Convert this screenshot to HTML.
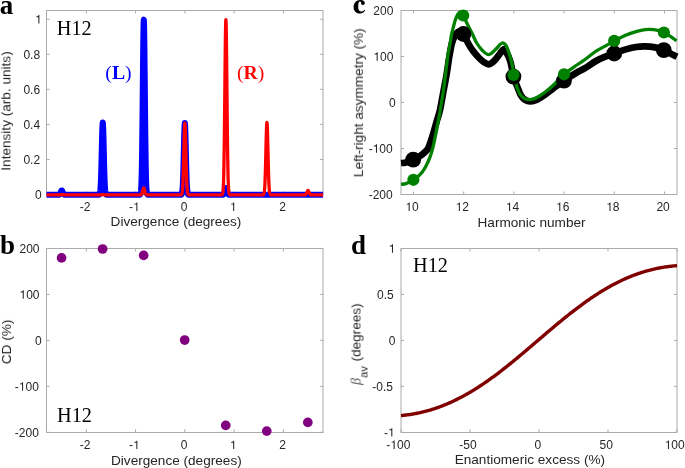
<!DOCTYPE html><html><head><meta charset="utf-8"><style>html,body{margin:0;padding:0;background:#fff;width:685px;height:468px;overflow:hidden}svg{display:block}</style></head><body><svg width="685" height="468" viewBox="0 0 685 468">
<rect width="685" height="468" fill="#fff"/>
<defs><clipPath id="ca"><rect x="46.5" y="0" width="276.6" height="468"/></clipPath><clipPath id="cc"><rect x="400.9" y="0" width="276.30000000000007" height="468"/></clipPath></defs>
<rect x="46.50" y="10.50" width="276.50" height="184.00" fill="none" stroke="#ababab" stroke-width="1"/>
<path d="M86.35 194.50V191.50M86.35 10.50V13.50M135.60 194.50V191.50M135.60 10.50V13.50M184.85 194.50V191.50M184.85 10.50V13.50M234.10 194.50V191.50M234.10 10.50V13.50M283.35 194.50V191.50M283.35 10.50V13.50" stroke="#ababab" stroke-width="1" fill="none"/>
<path d="M46.50 194.50H49.50M323.10 194.50H320.10M46.50 159.45H49.50M323.10 159.45H320.10M46.50 124.40H49.50M323.10 124.40H320.10M46.50 89.36H49.50M323.10 89.36H320.10M46.50 54.31H49.50M323.10 54.31H320.10M46.50 19.26H49.50M323.10 19.26H320.10" stroke="#ababab" stroke-width="1" fill="none"/>
<text style="will-change:transform" x="35.09" y="198.80" font-family='"Liberation Sans", sans-serif' font-size="12" fill="#262626">0</text>
<text style="will-change:transform" x="23.38" y="163.75" font-family='"Liberation Sans", sans-serif' font-size="12" fill="#262626">0</text>
<text style="will-change:transform" x="30.06" y="163.75" font-family='"Liberation Sans", sans-serif' font-size="12" fill="#262626">.</text>
<text style="will-change:transform" x="33.39" y="163.75" font-family='"Liberation Sans", sans-serif' font-size="12" fill="#262626">2</text>
<text style="will-change:transform" x="23.38" y="128.70" font-family='"Liberation Sans", sans-serif' font-size="12" fill="#262626">0</text>
<text style="will-change:transform" x="30.06" y="128.70" font-family='"Liberation Sans", sans-serif' font-size="12" fill="#262626">.</text>
<text style="will-change:transform" x="33.39" y="128.70" font-family='"Liberation Sans", sans-serif' font-size="12" fill="#262626">4</text>
<text style="will-change:transform" x="23.38" y="93.66" font-family='"Liberation Sans", sans-serif' font-size="12" fill="#262626">0</text>
<text style="will-change:transform" x="30.06" y="93.66" font-family='"Liberation Sans", sans-serif' font-size="12" fill="#262626">.</text>
<text style="will-change:transform" x="33.39" y="93.66" font-family='"Liberation Sans", sans-serif' font-size="12" fill="#262626">6</text>
<text style="will-change:transform" x="23.38" y="58.61" font-family='"Liberation Sans", sans-serif' font-size="12" fill="#262626">0</text>
<text style="will-change:transform" x="30.06" y="58.61" font-family='"Liberation Sans", sans-serif' font-size="12" fill="#262626">.</text>
<text style="will-change:transform" x="33.39" y="58.61" font-family='"Liberation Sans", sans-serif' font-size="12" fill="#262626">8</text>
<path d="M39.40 23.56L39.40 15.12L38.60 15.12C38.48 15.70 38.09 16.12 37.43 16.29L36.30 16.38L36.30 17.20L38.36 17.20L38.36 23.56Z" fill="#262626"/>
<text style="will-change:transform" x="79.81" y="210.90" font-family='"Liberation Sans", sans-serif' font-size="12" fill="#262626">-</text>
<text style="will-change:transform" x="83.80" y="210.90" font-family='"Liberation Sans", sans-serif' font-size="12" fill="#262626">2</text>
<text style="will-change:transform" x="129.06" y="210.90" font-family='"Liberation Sans", sans-serif' font-size="12" fill="#262626">-</text>
<path d="M137.36 210.90L137.36 202.46L136.56 202.46C136.44 203.04 136.05 203.46 135.39 203.63L134.27 203.72L134.27 204.54L136.32 204.54L136.32 210.90Z" fill="#262626"/>
<text style="will-change:transform" x="180.65" y="210.90" font-family='"Liberation Sans", sans-serif' font-size="12" fill="#262626">0</text>
<path d="M234.20 210.90L234.20 202.46L233.40 202.46C233.28 203.04 232.90 203.46 232.24 203.63L231.11 203.72L231.11 204.54L233.16 204.54L233.16 210.90Z" fill="#262626"/>
<text style="will-change:transform" x="279.15" y="210.90" font-family='"Liberation Sans", sans-serif' font-size="12" fill="#262626">2</text>
<text style="will-change:transform" x="110.60" y="226.40" font-family='"Liberation Sans", sans-serif' font-size="13.6" text-anchor="start" fill="#262626" font-weight="normal" >Divergence (degrees)</text>
<text style="will-change:transform" transform="translate(10.40,111.00) rotate(-90)" x="0" y="0" font-family='"Liberation Sans", sans-serif' font-size="13.6" text-anchor="middle" fill="#262626">Intensity (arb. units)</text>
<path d="M42.03 194.85 L58.10 194.84 L58.22 194.84 L58.34 194.83 L58.46 194.82 L58.58 194.81 L58.69 194.79 L58.81 194.77 L58.93 194.74 L59.05 194.69 L59.17 194.64 L59.29 194.58 L59.41 194.49 L59.53 194.39 L59.65 194.27 L59.77 194.12 L59.89 193.95 L60.00 193.75 L60.12 193.53 L60.24 193.28 L60.36 193.01 L60.48 192.72 L60.60 192.43 L60.72 192.12 L60.84 191.82 L60.96 191.52 L61.08 191.25 L61.20 191.01 L61.31 190.80 L61.43 190.64 L61.55 190.53 L61.67 190.47 L61.79 190.48 L61.91 190.54 L62.03 190.65 L62.15 190.82 L62.27 191.03 L62.39 191.28 L62.51 191.55 L62.62 191.85 L62.74 192.15 L62.86 192.46 L62.98 192.76 L63.10 193.04 L63.22 193.31 L63.34 193.55 L63.46 193.77 L63.58 193.97 L63.70 194.14 L63.81 194.28 L63.93 194.40 L64.05 194.50 L64.17 194.58 L64.29 194.65 L64.41 194.70 L64.53 194.74 L64.65 194.77 L64.77 194.79 L64.89 194.81 L65.01 194.82 L65.12 194.83 L65.24 194.84 L65.36 194.84 L98.35 194.84 L98.46 194.84 L98.58 194.83 L98.70 194.82 L98.82 194.80 L98.94 194.77 L99.06 194.73 L99.18 194.67 L99.30 194.59 L99.42 194.47 L99.54 194.30 L99.66 194.07 L99.77 193.75 L99.89 193.32 L100.01 192.76 L100.13 192.03 L100.25 191.10 L100.37 189.92 L100.49 188.45 L100.61 186.66 L100.73 184.50 L100.85 181.95 L100.96 178.98 L101.08 175.59 L101.20 171.77 L101.32 167.56 L101.44 163.01 L101.56 158.20 L101.68 153.21 L101.80 148.16 L101.92 143.19 L102.04 138.44 L102.16 134.07 L102.27 130.22 L102.39 127.03 L102.51 124.62 L102.63 123.09 L102.75 122.48 L102.87 122.84 L102.99 124.13 L103.11 126.31 L103.23 129.31 L103.35 132.99 L103.47 137.24 L103.58 141.90 L103.70 146.83 L103.82 151.87 L103.94 156.89 L104.06 161.76 L104.18 166.39 L104.30 170.69 L104.42 174.62 L104.54 178.13 L104.66 181.21 L104.78 183.87 L104.89 186.13 L105.01 188.01 L105.13 189.56 L105.25 190.81 L105.37 191.81 L105.49 192.59 L105.61 193.19 L105.73 193.65 L105.85 193.99 L105.97 194.24 L106.08 194.43 L106.20 194.56 L106.32 194.65 L106.44 194.72 L106.56 194.76 L106.68 194.79 L106.80 194.81 L106.92 194.83 L107.04 194.84 L107.16 194.84 L139.19 194.84 L139.31 194.84 L139.42 194.83 L139.54 194.81 L139.66 194.79 L139.78 194.76 L139.90 194.71 L140.02 194.64 L140.14 194.53 L140.26 194.37 L140.38 194.14 L140.50 193.81 L140.62 193.36 L140.73 192.73 L140.85 191.89 L140.97 190.77 L141.09 189.29 L141.21 187.37 L141.33 184.93 L141.45 181.86 L141.57 178.08 L141.69 173.47 L141.81 167.95 L141.93 161.46 L142.04 153.94 L142.16 145.39 L142.28 135.84 L142.40 125.38 L142.52 114.14 L142.64 102.31 L142.76 90.15 L142.88 77.95 L143.00 66.05 L143.12 54.80 L143.23 44.58 L143.35 35.73 L143.47 28.58 L143.59 23.40 L143.71 20.38 L143.83 19.65 L143.95 21.23 L144.07 25.06 L144.19 31.00 L144.31 38.80 L144.43 48.20 L144.54 58.84 L144.66 70.37 L144.78 82.42 L144.90 94.65 L145.02 106.72 L145.14 118.35 L145.26 129.33 L145.38 139.47 L145.50 148.65 L145.62 156.82 L145.74 163.96 L145.85 170.09 L145.97 175.26 L146.09 179.56 L146.21 183.07 L146.33 185.90 L146.45 188.13 L146.57 189.88 L146.69 191.22 L146.81 192.23 L146.93 192.99 L147.05 193.54 L147.16 193.94 L147.28 194.23 L147.40 194.43 L147.52 194.57 L147.64 194.67 L147.76 194.73 L147.88 194.77 L148.00 194.80 L148.12 194.82 L148.24 194.83 L148.35 194.84 L148.47 194.84 L180.38 194.84 L180.50 194.84 L180.62 194.83 L180.74 194.82 L180.86 194.81 L180.98 194.78 L181.10 194.75 L181.22 194.70 L181.34 194.63 L181.46 194.52 L181.58 194.37 L181.69 194.17 L181.81 193.88 L181.93 193.50 L182.05 193.00 L182.17 192.34 L182.29 191.49 L182.41 190.42 L182.53 189.07 L182.65 187.41 L182.77 185.41 L182.89 183.02 L183.00 180.23 L183.12 177.01 L183.24 173.38 L183.36 169.34 L183.48 164.94 L183.60 160.25 L183.72 155.34 L183.84 150.34 L183.96 145.36 L184.08 140.55 L184.20 136.05 L184.31 132.02 L184.43 128.60 L184.55 125.92 L184.67 124.06 L184.79 123.12 L184.91 123.12 L185.03 124.06 L185.15 125.92 L185.27 128.60 L185.39 132.02 L185.50 136.05 L185.62 140.55 L185.74 145.36 L185.86 150.34 L185.98 155.34 L186.10 160.25 L186.22 164.94 L186.34 169.34 L186.46 173.38 L186.58 177.01 L186.70 180.23 L186.81 183.02 L186.93 185.41 L187.05 187.41 L187.17 189.07 L187.29 190.42 L187.41 191.49 L187.53 192.34 L187.65 193.00 L187.77 193.50 L187.89 193.88 L188.01 194.17 L188.12 194.37 L188.24 194.52 L188.36 194.63 L188.48 194.70 L188.60 194.75 L188.72 194.78 L188.84 194.81 L188.96 194.82 L189.08 194.83 L189.20 194.84 L189.32 194.84 L222.06 194.84 L222.18 194.84 L222.30 194.83 L222.42 194.83 L222.54 194.81 L222.65 194.80 L222.77 194.78 L222.89 194.75 L223.01 194.71 L223.13 194.66 L223.25 194.59 L223.37 194.50 L223.49 194.39 L223.61 194.25 L223.73 194.09 L223.85 193.88 L223.96 193.65 L224.08 193.37 L224.20 193.05 L224.32 192.69 L224.44 192.29 L224.56 191.87 L224.68 191.41 L224.80 190.94 L224.92 190.47 L225.04 190.00 L225.16 189.55 L225.27 189.13 L225.39 188.76 L225.51 188.46 L225.63 188.23 L225.75 188.08 L225.87 188.02 L225.99 188.05 L226.11 188.16 L226.23 188.37 L226.35 188.64 L226.47 188.99 L226.58 189.39 L226.70 189.83 L226.82 190.29 L226.94 190.77 L227.06 191.24 L227.18 191.70 L227.30 192.14 L227.42 192.55 L227.54 192.92 L227.66 193.25 L227.77 193.55 L227.89 193.80 L228.01 194.02 L228.13 194.20 L228.25 194.34 L228.37 194.46 L228.49 194.56 L228.61 194.63 L228.73 194.69 L228.85 194.73 L228.97 194.77 L229.08 194.79 L229.20 194.81 L229.32 194.82 L229.44 194.83 L229.56 194.84 L229.68 194.84 L264.33 194.84 L264.45 194.84 L264.57 194.83 L264.69 194.83 L264.81 194.82 L264.92 194.82 L265.04 194.81 L265.16 194.80 L265.28 194.79 L265.40 194.78 L265.52 194.77 L265.64 194.75 L265.76 194.74 L265.88 194.73 L266.00 194.71 L266.12 194.70 L266.23 194.68 L266.35 194.67 L266.47 194.66 L266.59 194.65 L266.71 194.64 L266.83 194.64 L266.95 194.64 L267.07 194.64 L267.19 194.65 L267.31 194.65 L267.43 194.66 L267.54 194.67 L267.66 194.69 L267.78 194.70 L267.90 194.71 L268.02 194.73 L268.14 194.74 L268.26 194.76 L268.38 194.77 L268.50 194.78 L268.62 194.79 L268.74 194.80 L268.85 194.81 L268.97 194.82 L269.09 194.83 L269.21 194.83 L269.33 194.84 L269.45 194.84 L269.57 194.84 L305.29 194.84 L305.41 194.84 L305.53 194.84 L305.65 194.83 L305.77 194.83 L305.89 194.82 L306.00 194.81 L306.12 194.80 L306.24 194.79 L306.36 194.78 L306.48 194.77 L306.60 194.76 L306.72 194.74 L306.84 194.73 L306.96 194.71 L307.08 194.69 L307.19 194.68 L307.31 194.66 L307.43 194.65 L307.55 194.64 L307.67 194.63 L307.79 194.63 L307.91 194.62 L308.03 194.62 L308.15 194.63 L308.27 194.63 L308.39 194.64 L308.50 194.65 L308.62 194.66 L308.74 194.68 L308.86 194.69 L308.98 194.71 L309.10 194.72 L309.22 194.74 L309.34 194.75 L309.46 194.77 L309.58 194.78 L309.70 194.79 L309.81 194.80 L309.93 194.81 L310.05 194.82 L310.17 194.83 L310.29 194.83 L310.41 194.84 L310.53 194.84 L310.65 194.84 L327.67 194.85" fill="none" stroke="#0000ff" stroke-width="6.0" stroke-linejoin="round" stroke-linecap="butt" clip-path="url(#ca)"/>
<path d="M42.03 194.85 L59.05 194.84 L59.17 194.84 L59.29 194.84 L59.41 194.83 L59.53 194.83 L59.65 194.82 L59.77 194.81 L59.89 194.80 L60.00 194.79 L60.12 194.78 L60.24 194.77 L60.36 194.75 L60.48 194.74 L60.60 194.72 L60.72 194.71 L60.84 194.69 L60.96 194.68 L61.08 194.66 L61.20 194.65 L61.31 194.64 L61.43 194.63 L61.55 194.63 L61.67 194.62 L61.79 194.62 L61.91 194.63 L62.03 194.63 L62.15 194.64 L62.27 194.65 L62.39 194.66 L62.51 194.68 L62.62 194.69 L62.74 194.71 L62.86 194.73 L62.98 194.74 L63.10 194.76 L63.22 194.77 L63.34 194.78 L63.46 194.79 L63.58 194.80 L63.70 194.81 L63.81 194.82 L63.93 194.83 L64.05 194.83 L64.17 194.84 L64.29 194.84 L64.41 194.84 L100.13 194.84 L100.25 194.84 L100.37 194.84 L100.49 194.83 L100.61 194.83 L100.73 194.82 L100.85 194.81 L100.96 194.80 L101.08 194.79 L101.20 194.78 L101.32 194.77 L101.44 194.76 L101.56 194.74 L101.68 194.73 L101.80 194.71 L101.92 194.70 L102.04 194.69 L102.16 194.67 L102.27 194.66 L102.39 194.65 L102.51 194.65 L102.63 194.64 L102.75 194.64 L102.87 194.64 L102.99 194.64 L103.11 194.65 L103.23 194.66 L103.35 194.67 L103.47 194.68 L103.58 194.70 L103.70 194.71 L103.82 194.73 L103.94 194.74 L104.06 194.75 L104.18 194.77 L104.30 194.78 L104.42 194.79 L104.54 194.80 L104.66 194.81 L104.78 194.82 L104.89 194.82 L105.01 194.83 L105.13 194.83 L105.25 194.84 L105.37 194.84 L140.02 194.84 L140.14 194.84 L140.26 194.83 L140.38 194.82 L140.50 194.81 L140.62 194.79 L140.73 194.77 L140.85 194.73 L140.97 194.69 L141.09 194.63 L141.21 194.56 L141.33 194.46 L141.45 194.34 L141.57 194.20 L141.69 194.02 L141.81 193.80 L141.93 193.55 L142.04 193.25 L142.16 192.92 L142.28 192.55 L142.40 192.14 L142.52 191.70 L142.64 191.24 L142.76 190.77 L142.88 190.29 L143.00 189.83 L143.12 189.39 L143.23 188.99 L143.35 188.64 L143.47 188.37 L143.59 188.16 L143.71 188.05 L143.83 188.02 L143.95 188.08 L144.07 188.23 L144.19 188.46 L144.31 188.76 L144.43 189.13 L144.54 189.55 L144.66 190.00 L144.78 190.47 L144.90 190.94 L145.02 191.41 L145.14 191.87 L145.26 192.29 L145.38 192.69 L145.50 193.05 L145.62 193.37 L145.74 193.65 L145.85 193.88 L145.97 194.09 L146.09 194.25 L146.21 194.39 L146.33 194.50 L146.45 194.59 L146.57 194.66 L146.69 194.71 L146.81 194.75 L146.93 194.78 L147.05 194.80 L147.16 194.81 L147.28 194.83 L147.40 194.83 L147.52 194.84 L147.64 194.84 L180.38 194.84 L180.50 194.84 L180.62 194.83 L180.74 194.82 L180.86 194.81 L180.98 194.78 L181.10 194.75 L181.22 194.70 L181.34 194.63 L181.46 194.52 L181.58 194.37 L181.69 194.17 L181.81 193.88 L181.93 193.50 L182.05 193.00 L182.17 192.34 L182.29 191.49 L182.41 190.42 L182.53 189.07 L182.65 187.41 L182.77 185.41 L182.89 183.02 L183.00 180.23 L183.12 177.01 L183.24 173.38 L183.36 169.34 L183.48 164.94 L183.60 160.25 L183.72 155.34 L183.84 150.34 L183.96 145.36 L184.08 140.55 L184.20 136.05 L184.31 132.02 L184.43 128.60 L184.55 125.92 L184.67 124.06 L184.79 123.12 L184.91 123.12 L185.03 124.06 L185.15 125.92 L185.27 128.60 L185.39 132.02 L185.50 136.05 L185.62 140.55 L185.74 145.36 L185.86 150.34 L185.98 155.34 L186.10 160.25 L186.22 164.94 L186.34 169.34 L186.46 173.38 L186.58 177.01 L186.70 180.23 L186.81 183.02 L186.93 185.41 L187.05 187.41 L187.17 189.07 L187.29 190.42 L187.41 191.49 L187.53 192.34 L187.65 193.00 L187.77 193.50 L187.89 193.88 L188.01 194.17 L188.12 194.37 L188.24 194.52 L188.36 194.63 L188.48 194.70 L188.60 194.75 L188.72 194.78 L188.84 194.81 L188.96 194.82 L189.08 194.83 L189.20 194.84 L189.32 194.84 L221.23 194.84 L221.35 194.84 L221.46 194.83 L221.58 194.82 L221.70 194.80 L221.82 194.77 L221.94 194.73 L222.06 194.67 L222.18 194.57 L222.30 194.43 L222.42 194.23 L222.54 193.94 L222.65 193.54 L222.77 192.99 L222.89 192.23 L223.01 191.22 L223.13 189.88 L223.25 188.13 L223.37 185.90 L223.49 183.07 L223.61 179.56 L223.73 175.26 L223.85 170.09 L223.96 163.96 L224.08 156.82 L224.20 148.65 L224.32 139.47 L224.44 129.33 L224.56 118.35 L224.68 106.72 L224.80 94.65 L224.92 82.42 L225.04 70.37 L225.16 58.84 L225.27 48.20 L225.39 38.80 L225.51 31.00 L225.63 25.06 L225.75 21.23 L225.87 19.65 L225.99 20.38 L226.11 23.40 L226.23 28.58 L226.35 35.73 L226.47 44.58 L226.58 54.80 L226.70 66.05 L226.82 77.95 L226.94 90.15 L227.06 102.31 L227.18 114.14 L227.30 125.38 L227.42 135.84 L227.54 145.39 L227.66 153.94 L227.77 161.46 L227.89 167.95 L228.01 173.47 L228.13 178.08 L228.25 181.86 L228.37 184.93 L228.49 187.37 L228.61 189.29 L228.73 190.77 L228.85 191.89 L228.97 192.73 L229.08 193.36 L229.20 193.81 L229.32 194.14 L229.44 194.37 L229.56 194.53 L229.68 194.64 L229.80 194.71 L229.92 194.76 L230.04 194.79 L230.16 194.81 L230.28 194.83 L230.39 194.84 L230.51 194.84 L262.54 194.84 L262.66 194.84 L262.78 194.83 L262.90 194.81 L263.02 194.79 L263.14 194.76 L263.26 194.72 L263.38 194.65 L263.50 194.56 L263.62 194.43 L263.73 194.24 L263.85 193.99 L263.97 193.65 L264.09 193.19 L264.21 192.59 L264.33 191.81 L264.45 190.81 L264.57 189.56 L264.69 188.01 L264.81 186.13 L264.92 183.87 L265.04 181.21 L265.16 178.13 L265.28 174.62 L265.40 170.69 L265.52 166.39 L265.64 161.76 L265.76 156.89 L265.88 151.87 L266.00 146.83 L266.12 141.90 L266.23 137.24 L266.35 132.99 L266.47 129.31 L266.59 126.31 L266.71 124.13 L266.83 122.84 L266.95 122.48 L267.07 123.09 L267.19 124.62 L267.31 127.03 L267.43 130.22 L267.54 134.07 L267.66 138.44 L267.78 143.19 L267.90 148.16 L268.02 153.21 L268.14 158.20 L268.26 163.01 L268.38 167.56 L268.50 171.77 L268.62 175.59 L268.74 178.98 L268.85 181.95 L268.97 184.50 L269.09 186.66 L269.21 188.45 L269.33 189.92 L269.45 191.10 L269.57 192.03 L269.69 192.76 L269.81 193.32 L269.93 193.75 L270.04 194.07 L270.16 194.30 L270.28 194.47 L270.40 194.59 L270.52 194.67 L270.64 194.73 L270.76 194.77 L270.88 194.80 L271.00 194.82 L271.12 194.83 L271.24 194.84 L271.35 194.84 L304.34 194.84 L304.46 194.84 L304.58 194.83 L304.69 194.82 L304.81 194.81 L304.93 194.79 L305.05 194.77 L305.17 194.74 L305.29 194.70 L305.41 194.65 L305.53 194.58 L305.65 194.50 L305.77 194.40 L305.89 194.28 L306.00 194.14 L306.12 193.97 L306.24 193.77 L306.36 193.55 L306.48 193.31 L306.60 193.04 L306.72 192.76 L306.84 192.46 L306.96 192.15 L307.08 191.85 L307.19 191.55 L307.31 191.28 L307.43 191.03 L307.55 190.82 L307.67 190.65 L307.79 190.54 L307.91 190.48 L308.03 190.47 L308.15 190.53 L308.27 190.64 L308.39 190.80 L308.50 191.01 L308.62 191.25 L308.74 191.52 L308.86 191.82 L308.98 192.12 L309.10 192.43 L309.22 192.72 L309.34 193.01 L309.46 193.28 L309.58 193.53 L309.70 193.75 L309.81 193.95 L309.93 194.12 L310.05 194.27 L310.17 194.39 L310.29 194.49 L310.41 194.58 L310.53 194.64 L310.65 194.69 L310.77 194.74 L310.89 194.77 L311.01 194.79 L311.12 194.81 L311.24 194.82 L311.36 194.83 L311.48 194.84 L311.60 194.84 L327.67 194.85" fill="none" stroke="#ff0000" stroke-width="3.3" stroke-linejoin="round" stroke-linecap="butt" clip-path="url(#ca)"/>
<text style="will-change:transform" x="56.80" y="34.80" font-family='"Liberation Serif", serif' font-size="20.3" text-anchor="start" fill="#000" font-weight="normal" >H12</text>
<text style="will-change:transform" transform="translate(105.3,79.3) scale(1,0.93)" font-family='"Liberation Serif", serif' font-size="19.8" fill="#0000ff" font-weight="bold"><tspan font-weight="normal">(</tspan>L<tspan font-weight="normal">)</tspan></text>
<text style="will-change:transform" transform="translate(236.9,79.3) scale(1,0.93)" font-family='"Liberation Serif", serif' font-size="19.8" fill="#ff0000" font-weight="bold"><tspan font-weight="normal">(</tspan>R<tspan font-weight="normal">)</tspan></text>
<text style="will-change:transform" x="-0.30" y="13.80" font-family='"Liberation Serif", serif' font-size="27" text-anchor="start" fill="#000" font-weight="bold" >a</text>
<rect x="46.50" y="248.50" width="276.50" height="184.00" fill="none" stroke="#ababab" stroke-width="1"/>
<path d="M86.35 432.30V429.30M86.35 248.50V251.50M135.60 432.30V429.30M135.60 248.50V251.50M184.85 432.30V429.30M184.85 248.50V251.50M234.10 432.30V429.30M234.10 248.50V251.50M283.35 432.30V429.30M283.35 248.50V251.50" stroke="#ababab" stroke-width="1" fill="none"/>
<path d="M46.50 432.30H49.50M323.20 432.30H320.20M46.50 386.35H49.50M323.20 386.35H320.20M46.50 340.40H49.50M323.20 340.40H320.20M46.50 294.45H49.50M323.20 294.45H320.20M46.50 248.50H49.50M323.20 248.50H320.20" stroke="#ababab" stroke-width="1" fill="none"/>
<text style="will-change:transform" x="14.80" y="436.60" font-family='"Liberation Sans", sans-serif' font-size="12" fill="#262626">-</text>
<text style="will-change:transform" x="18.80" y="436.60" font-family='"Liberation Sans", sans-serif' font-size="12" fill="#262626">2</text>
<text style="will-change:transform" x="25.47" y="436.60" font-family='"Liberation Sans", sans-serif' font-size="12" fill="#262626">0</text>
<text style="will-change:transform" x="32.14" y="436.60" font-family='"Liberation Sans", sans-serif' font-size="12" fill="#262626">0</text>
<text style="will-change:transform" x="14.80" y="390.65" font-family='"Liberation Sans", sans-serif' font-size="12" fill="#262626">-</text>
<text style="will-change:transform" x="25.47" y="390.65" font-family='"Liberation Sans", sans-serif' font-size="12" fill="#262626">0</text>
<text style="will-change:transform" x="32.14" y="390.65" font-family='"Liberation Sans", sans-serif' font-size="12" fill="#262626">0</text>
<path d="M23.10 390.65L23.10 382.21L22.30 382.21C22.18 382.79 21.80 383.21 21.14 383.38L20.01 383.47L20.01 384.29L22.06 384.29L22.06 390.65Z" fill="#262626"/>
<text style="will-change:transform" x="35.09" y="344.70" font-family='"Liberation Sans", sans-serif' font-size="12" fill="#262626">0</text>
<text style="will-change:transform" x="26.15" y="298.75" font-family='"Liberation Sans", sans-serif' font-size="12" fill="#262626">0</text>
<text style="will-change:transform" x="32.82" y="298.75" font-family='"Liberation Sans", sans-serif' font-size="12" fill="#262626">0</text>
<path d="M23.78 298.75L23.78 290.31L22.98 290.31C22.86 290.89 22.47 291.31 21.81 291.48L20.69 291.57L20.69 292.39L22.74 292.39L22.74 298.75Z" fill="#262626"/>
<text style="will-change:transform" x="19.47" y="252.80" font-family='"Liberation Sans", sans-serif' font-size="12" fill="#262626">2</text>
<text style="will-change:transform" x="26.15" y="252.80" font-family='"Liberation Sans", sans-serif' font-size="12" fill="#262626">0</text>
<text style="will-change:transform" x="32.82" y="252.80" font-family='"Liberation Sans", sans-serif' font-size="12" fill="#262626">0</text>
<text style="will-change:transform" x="79.81" y="449.10" font-family='"Liberation Sans", sans-serif' font-size="12" fill="#262626">-</text>
<text style="will-change:transform" x="83.80" y="449.10" font-family='"Liberation Sans", sans-serif' font-size="12" fill="#262626">2</text>
<text style="will-change:transform" x="129.06" y="449.10" font-family='"Liberation Sans", sans-serif' font-size="12" fill="#262626">-</text>
<path d="M137.36 449.10L137.36 440.66L136.56 440.66C136.44 441.24 136.05 441.66 135.39 441.83L134.27 441.92L134.27 442.74L136.32 442.74L136.32 449.10Z" fill="#262626"/>
<text style="will-change:transform" x="180.65" y="449.10" font-family='"Liberation Sans", sans-serif' font-size="12" fill="#262626">0</text>
<path d="M234.20 449.10L234.20 440.66L233.40 440.66C233.28 441.24 232.90 441.66 232.24 441.83L231.11 441.92L231.11 442.74L233.16 442.74L233.16 449.10Z" fill="#262626"/>
<text style="will-change:transform" x="279.15" y="449.10" font-family='"Liberation Sans", sans-serif' font-size="12" fill="#262626">2</text>
<text style="will-change:transform" x="111.00" y="464.50" font-family='"Liberation Sans", sans-serif' font-size="13.6" text-anchor="start" fill="#262626" font-weight="normal" >Divergence (degrees)</text>
<text style="will-change:transform" transform="translate(11.00,341.90) rotate(-90)" x="0" y="0" font-family='"Liberation Sans", sans-serif' font-size="13.6" text-anchor="middle" fill="#262626">CD (%)</text>
<circle cx="61.57" cy="257.92" r="4.85" fill="#800080"/>
<circle cx="102.62" cy="249.01" r="4.85" fill="#800080"/>
<circle cx="143.66" cy="255.39" r="4.85" fill="#800080"/>
<circle cx="184.70" cy="340.03" r="4.85" fill="#800080"/>
<circle cx="225.74" cy="425.41" r="4.85" fill="#800080"/>
<circle cx="266.78" cy="431.11" r="4.85" fill="#800080"/>
<circle cx="307.83" cy="422.42" r="4.85" fill="#800080"/>
<text style="will-change:transform" x="57.00" y="421.90" font-family='"Liberation Serif", serif' font-size="20.3" text-anchor="start" fill="#000" font-weight="normal" >H12</text>
<text style="will-change:transform" x="0.00" y="253.50" font-family='"Liberation Serif", serif' font-size="27" text-anchor="start" fill="#000" font-weight="bold" >b</text>
<rect x="401.00" y="10.50" width="276.00" height="184.00" fill="none" stroke="#ababab" stroke-width="1"/>
<path d="M413.50 194.50V191.50M413.50 10.50V13.50M463.70 194.50V191.50M463.70 10.50V13.50M513.90 194.50V191.50M513.90 10.50V13.50M564.10 194.50V191.50M564.10 10.50V13.50M614.30 194.50V191.50M614.30 10.50V13.50M664.50 194.50V191.50M664.50 10.50V13.50" stroke="#ababab" stroke-width="1" fill="none"/>
<path d="M401.00 194.50H404.00M677.00 194.50H674.00M401.00 148.50H404.00M677.00 148.50H674.00M401.00 102.50H404.00M677.00 102.50H674.00M401.00 56.50H404.00M677.00 56.50H674.00M401.00 10.50H404.00M677.00 10.50H674.00" stroke="#ababab" stroke-width="1" fill="none"/>
<text style="will-change:transform" x="368.70" y="198.80" font-family='"Liberation Sans", sans-serif' font-size="12" fill="#262626">-</text>
<text style="will-change:transform" x="372.70" y="198.80" font-family='"Liberation Sans", sans-serif' font-size="12" fill="#262626">2</text>
<text style="will-change:transform" x="379.37" y="198.80" font-family='"Liberation Sans", sans-serif' font-size="12" fill="#262626">0</text>
<text style="will-change:transform" x="386.04" y="198.80" font-family='"Liberation Sans", sans-serif' font-size="12" fill="#262626">0</text>
<text style="will-change:transform" x="368.70" y="152.80" font-family='"Liberation Sans", sans-serif' font-size="12" fill="#262626">-</text>
<text style="will-change:transform" x="379.37" y="152.80" font-family='"Liberation Sans", sans-serif' font-size="12" fill="#262626">0</text>
<text style="will-change:transform" x="386.04" y="152.80" font-family='"Liberation Sans", sans-serif' font-size="12" fill="#262626">0</text>
<path d="M377.00 152.80L377.00 144.36L376.20 144.36C376.08 144.94 375.70 145.36 375.04 145.53L373.91 145.62L373.91 146.44L375.96 146.44L375.96 152.80Z" fill="#262626"/>
<text style="will-change:transform" x="388.99" y="106.80" font-family='"Liberation Sans", sans-serif' font-size="12" fill="#262626">0</text>
<text style="will-change:transform" x="380.05" y="60.80" font-family='"Liberation Sans", sans-serif' font-size="12" fill="#262626">0</text>
<text style="will-change:transform" x="386.72" y="60.80" font-family='"Liberation Sans", sans-serif' font-size="12" fill="#262626">0</text>
<path d="M377.68 60.80L377.68 52.36L376.88 52.36C376.76 52.94 376.37 53.36 375.71 53.53L374.59 53.62L374.59 54.44L376.64 54.44L376.64 60.80Z" fill="#262626"/>
<text style="will-change:transform" x="373.37" y="14.80" font-family='"Liberation Sans", sans-serif' font-size="12" fill="#262626">2</text>
<text style="will-change:transform" x="380.05" y="14.80" font-family='"Liberation Sans", sans-serif' font-size="12" fill="#262626">0</text>
<text style="will-change:transform" x="386.72" y="14.80" font-family='"Liberation Sans", sans-serif' font-size="12" fill="#262626">0</text>
<text style="will-change:transform" x="412.07" y="210.90" font-family='"Liberation Sans", sans-serif' font-size="12" fill="#262626">0</text>
<path d="M409.70 210.90L409.70 202.46L408.90 202.46C408.78 203.04 408.39 203.46 407.73 203.63L406.60 203.72L406.60 204.54L408.66 204.54L408.66 210.90Z" fill="#262626"/>
<text style="will-change:transform" x="462.27" y="210.90" font-family='"Liberation Sans", sans-serif' font-size="12" fill="#262626">2</text>
<path d="M459.90 210.90L459.90 202.46L459.10 202.46C458.98 203.04 458.59 203.46 457.93 203.63L456.80 203.72L456.80 204.54L458.86 204.54L458.86 210.90Z" fill="#262626"/>
<text style="will-change:transform" x="512.47" y="210.90" font-family='"Liberation Sans", sans-serif' font-size="12" fill="#262626">4</text>
<path d="M510.10 210.90L510.10 202.46L509.30 202.46C509.18 203.04 508.79 203.46 508.13 203.63L507.00 203.72L507.00 204.54L509.06 204.54L509.06 210.90Z" fill="#262626"/>
<text style="will-change:transform" x="562.67" y="210.90" font-family='"Liberation Sans", sans-serif' font-size="12" fill="#262626">6</text>
<path d="M560.30 210.90L560.30 202.46L559.50 202.46C559.38 203.04 558.99 203.46 558.33 203.63L557.20 203.72L557.20 204.54L559.26 204.54L559.26 210.90Z" fill="#262626"/>
<text style="will-change:transform" x="612.87" y="210.90" font-family='"Liberation Sans", sans-serif' font-size="12" fill="#262626">8</text>
<path d="M610.50 210.90L610.50 202.46L609.70 202.46C609.58 203.04 609.19 203.46 608.53 203.63L607.40 203.72L607.40 204.54L609.46 204.54L609.46 210.90Z" fill="#262626"/>
<text style="will-change:transform" x="656.39" y="210.90" font-family='"Liberation Sans", sans-serif' font-size="12" fill="#262626">2</text>
<text style="will-change:transform" x="663.07" y="210.90" font-family='"Liberation Sans", sans-serif' font-size="12" fill="#262626">0</text>
<text style="will-change:transform" x="477.50" y="227.00" font-family='"Liberation Sans", sans-serif' font-size="13.6" text-anchor="start" fill="#262626" font-weight="normal" >Harmonic number</text>
<text style="will-change:transform" transform="translate(362.90,102.65) rotate(-90)" x="0" y="0" font-family='"Liberation Sans", sans-serif' font-size="13.6" text-anchor="middle" fill="#262626">Left-right asymmetry (%)</text>
<path d="M401.00 163.00 C401.83 162.93 403.97 163.17 406.00 162.60 C408.03 162.03 411.20 160.53 413.20 159.60 C415.20 158.67 416.62 157.77 418.00 157.00 C419.38 156.23 420.33 155.83 421.50 155.00 C422.67 154.17 423.92 153.07 425.00 152.00 C426.08 150.93 427.05 150.35 428.00 148.60 C428.95 146.85 429.70 144.43 430.70 141.50 C431.70 138.57 432.93 134.58 434.00 131.00 C435.07 127.42 436.10 123.50 437.10 120.00 C438.10 116.50 438.90 115.00 440.00 110.00 C441.10 105.00 442.62 95.83 443.70 90.00 C444.78 84.17 445.52 80.83 446.50 75.00 C447.48 69.17 448.68 60.33 449.60 55.00 C450.52 49.67 451.10 46.25 452.00 43.00 C452.90 39.75 453.92 37.37 455.00 35.50 C456.08 33.63 457.10 32.05 458.50 31.80 C459.90 31.55 461.78 32.08 463.40 34.00 C465.02 35.92 466.65 40.55 468.20 43.30 C469.75 46.05 470.92 48.08 472.70 50.50 C474.48 52.92 477.02 55.83 478.90 57.80 C480.78 59.77 482.40 61.22 484.00 62.30 C485.60 63.38 487.17 64.22 488.50 64.30 C489.83 64.38 490.92 63.52 492.00 62.80 C493.08 62.08 493.67 61.53 495.00 60.00 C496.33 58.47 498.58 55.40 500.00 53.60 C501.42 51.80 502.42 49.38 503.50 49.20 C504.58 49.02 505.42 50.62 506.50 52.50 C507.58 54.38 509.12 57.92 510.00 60.50 C510.88 63.08 511.23 65.32 511.80 68.00 C512.37 70.68 512.53 73.60 513.40 76.60 C514.27 79.60 515.73 82.85 517.00 86.00 C518.27 89.15 519.58 93.13 521.00 95.50 C522.42 97.87 523.92 99.20 525.50 100.20 C527.08 101.20 528.58 101.60 530.50 101.50 C532.42 101.40 534.58 100.72 537.00 99.60 C539.42 98.48 542.25 96.70 545.00 94.80 C547.75 92.90 550.33 90.57 553.50 88.20 C556.67 85.83 560.25 83.13 564.00 80.60 C567.75 78.07 572.50 75.07 576.00 73.00 C579.50 70.93 581.67 70.20 585.00 68.20 C588.33 66.20 592.50 62.97 596.00 61.00 C599.50 59.03 602.97 57.65 606.00 56.40 C609.03 55.15 611.03 54.63 614.20 53.50 C617.37 52.37 621.37 50.68 625.00 49.60 C628.63 48.52 632.67 47.53 636.00 47.00 C639.33 46.47 641.83 46.33 645.00 46.40 C648.17 46.47 651.87 46.77 655.00 47.40 C658.13 48.03 661.30 49.22 663.80 50.20 C666.30 51.18 667.80 52.20 670.00 53.30 C672.20 54.40 675.83 56.22 677.00 56.80" fill="none" stroke="#000" stroke-width="6.7" stroke-linejoin="round" stroke-linecap="butt"/>
<path d="M401.00 184.30 C401.83 184.18 403.93 184.35 406.00 183.60 C408.07 182.85 411.40 180.98 413.40 179.80 C415.40 178.62 416.52 177.80 418.00 176.50 C419.48 175.20 420.97 173.75 422.30 172.00 C423.63 170.25 424.78 168.30 426.00 166.00 C427.22 163.70 428.52 161.03 429.60 158.20 C430.68 155.37 431.67 152.03 432.50 149.00 C433.33 145.97 433.60 144.83 434.60 140.00 C435.60 135.17 437.55 125.00 438.50 120.00 C439.45 115.00 439.47 115.00 440.30 110.00 C441.13 105.00 442.65 95.83 443.50 90.00 C444.35 84.17 444.65 80.83 445.40 75.00 C446.15 69.17 447.20 60.33 448.00 55.00 C448.80 49.67 449.62 46.42 450.20 43.00 C450.78 39.58 450.88 37.50 451.50 34.50 C452.12 31.50 453.23 27.50 453.90 25.00 C454.57 22.50 454.88 21.23 455.50 19.50 C456.12 17.77 456.82 15.82 457.60 14.60 C458.38 13.38 459.27 12.05 460.20 12.20 C461.13 12.35 462.02 13.53 463.20 15.50 C464.38 17.47 465.75 20.87 467.30 24.00 C468.85 27.13 470.93 31.13 472.50 34.30 C474.07 37.47 475.05 40.30 476.70 43.00 C478.35 45.70 480.42 48.57 482.40 50.50 C484.38 52.43 486.50 54.68 488.60 54.60 C490.70 54.52 493.10 51.67 495.00 50.00 C496.90 48.33 498.67 45.78 500.00 44.60 C501.33 43.42 502.00 42.75 503.00 42.90 C504.00 43.05 505.10 44.15 506.00 45.50 C506.90 46.85 507.57 48.58 508.40 51.00 C509.23 53.42 510.27 57.17 511.00 60.00 C511.73 62.83 512.38 65.52 512.80 68.00 C513.22 70.48 512.93 72.07 513.50 74.90 C514.07 77.73 515.08 81.73 516.20 85.00 C517.32 88.27 518.73 92.20 520.20 94.50 C521.67 96.80 523.37 97.95 525.00 98.80 C526.63 99.65 528.17 99.72 530.00 99.60 C531.83 99.48 533.50 99.32 536.00 98.10 C538.50 96.88 542.08 94.48 545.00 92.30 C547.92 90.12 550.33 88.00 553.50 85.00 C556.67 82.00 560.25 77.55 564.00 74.30 C567.75 71.05 572.50 67.97 576.00 65.50 C579.50 63.03 581.67 61.88 585.00 59.50 C588.33 57.12 592.50 53.52 596.00 51.20 C599.50 48.88 602.97 47.32 606.00 45.60 C609.03 43.88 611.03 42.57 614.20 40.90 C617.37 39.23 621.37 37.15 625.00 35.60 C628.63 34.05 632.67 32.60 636.00 31.60 C639.33 30.60 642.00 29.92 645.00 29.60 C648.00 29.28 650.85 29.22 654.00 29.70 C657.15 30.18 661.23 31.42 663.90 32.50 C666.57 33.58 667.90 34.82 670.00 36.20 C672.10 37.58 675.42 40.03 676.50 40.80" fill="none" stroke="#008000" stroke-width="3.3" stroke-linejoin="round" stroke-linecap="butt"/>
<circle cx="413.20" cy="159.60" r="7.9" fill="#000"/>
<circle cx="463.40" cy="34.00" r="7.9" fill="#000"/>
<circle cx="513.40" cy="76.60" r="7.9" fill="#000"/>
<circle cx="564.00" cy="80.60" r="7.9" fill="#000"/>
<circle cx="614.20" cy="53.50" r="7.9" fill="#000"/>
<circle cx="663.80" cy="50.20" r="7.9" fill="#000"/>
<circle cx="413.40" cy="179.80" r="6.1" fill="#008000"/>
<circle cx="463.20" cy="15.50" r="6.1" fill="#008000"/>
<circle cx="513.50" cy="74.90" r="6.1" fill="#008000"/>
<circle cx="564.00" cy="74.30" r="6.1" fill="#008000"/>
<circle cx="614.20" cy="40.90" r="6.1" fill="#008000"/>
<circle cx="663.90" cy="32.50" r="6.1" fill="#008000"/>
<path d="M365.2 10.3C364.0 12.4 362.3 13.6 359.8 13.6C356.0 13.6 353.6 10.9 353.6 7.0C353.6 2.8 356.6 0.0 360.0 0.0C361.8 0.0 363.4 0.5 364.2 1.3L361.3 2.2C360.8 1.6 360.4 1.4 359.9 1.4C358.7 1.4 358.2 3.5 358.2 6.6C358.2 9.9 359.3 11.6 361.2 11.6C362.6 11.6 363.8 10.9 364.7 9.8Z" fill="#000"/><circle cx="362.9" cy="3.0" r="1.95" fill="#000"/>
<rect x="401.00" y="248.50" width="276.00" height="184.00" fill="none" stroke="#ababab" stroke-width="1"/>
<path d="M401.00 432.30V429.30M401.00 248.50V251.50M470.00 432.30V429.30M470.00 248.50V251.50M539.00 432.30V429.30M539.00 248.50V251.50M608.00 432.30V429.30M608.00 248.50V251.50M677.00 432.30V429.30M677.00 248.50V251.50" stroke="#ababab" stroke-width="1" fill="none"/>
<path d="M401.00 432.30H404.00M677.00 432.30H674.00M401.00 386.35H404.00M677.00 386.35H674.00M401.00 340.40H404.00M677.00 340.40H674.00M401.00 294.45H404.00M677.00 294.45H674.00M401.00 248.50H404.00M677.00 248.50H674.00" stroke="#ababab" stroke-width="1" fill="none"/>
<text style="will-change:transform" x="384.02" y="436.60" font-family='"Liberation Sans", sans-serif' font-size="12" fill="#262626">-</text>
<path d="M392.32 436.60L392.32 428.16L391.52 428.16C391.40 428.74 391.01 429.16 390.35 429.33L389.22 429.42L389.22 430.24L391.28 430.24L391.28 436.60Z" fill="#262626"/>
<text style="will-change:transform" x="372.31" y="390.65" font-family='"Liberation Sans", sans-serif' font-size="12" fill="#262626">-</text>
<text style="will-change:transform" x="376.30" y="390.65" font-family='"Liberation Sans", sans-serif' font-size="12" fill="#262626">0</text>
<text style="will-change:transform" x="382.98" y="390.65" font-family='"Liberation Sans", sans-serif' font-size="12" fill="#262626">.</text>
<text style="will-change:transform" x="386.31" y="390.65" font-family='"Liberation Sans", sans-serif' font-size="12" fill="#262626">5</text>
<text style="will-change:transform" x="388.69" y="344.70" font-family='"Liberation Sans", sans-serif' font-size="12" fill="#262626">0</text>
<text style="will-change:transform" x="376.98" y="298.75" font-family='"Liberation Sans", sans-serif' font-size="12" fill="#262626">0</text>
<text style="will-change:transform" x="383.66" y="298.75" font-family='"Liberation Sans", sans-serif' font-size="12" fill="#262626">.</text>
<text style="will-change:transform" x="386.99" y="298.75" font-family='"Liberation Sans", sans-serif' font-size="12" fill="#262626">5</text>
<path d="M393.00 252.80L393.00 244.36L392.20 244.36C392.08 244.94 391.69 245.36 391.03 245.53L389.90 245.62L389.90 246.44L391.96 246.44L391.96 252.80Z" fill="#262626"/>
<text style="will-change:transform" x="386.35" y="448.90" font-family='"Liberation Sans", sans-serif' font-size="12" fill="#262626">-</text>
<text style="will-change:transform" x="397.02" y="448.90" font-family='"Liberation Sans", sans-serif' font-size="12" fill="#262626">0</text>
<text style="will-change:transform" x="403.69" y="448.90" font-family='"Liberation Sans", sans-serif' font-size="12" fill="#262626">0</text>
<path d="M394.65 448.90L394.65 440.46L393.85 440.46C393.73 441.04 393.35 441.46 392.69 441.63L391.56 441.72L391.56 442.54L393.61 442.54L393.61 448.90Z" fill="#262626"/>
<text style="will-change:transform" x="459.25" y="448.90" font-family='"Liberation Sans", sans-serif' font-size="12" fill="#262626">-</text>
<text style="will-change:transform" x="463.25" y="448.90" font-family='"Liberation Sans", sans-serif' font-size="12" fill="#262626">5</text>
<text style="will-change:transform" x="469.92" y="448.90" font-family='"Liberation Sans", sans-serif' font-size="12" fill="#262626">0</text>
<text style="will-change:transform" x="534.50" y="448.90" font-family='"Liberation Sans", sans-serif' font-size="12" fill="#262626">0</text>
<text style="will-change:transform" x="599.59" y="448.90" font-family='"Liberation Sans", sans-serif' font-size="12" fill="#262626">5</text>
<text style="will-change:transform" x="606.27" y="448.90" font-family='"Liberation Sans", sans-serif' font-size="12" fill="#262626">0</text>
<text style="will-change:transform" x="671.36" y="448.90" font-family='"Liberation Sans", sans-serif' font-size="12" fill="#262626">0</text>
<text style="will-change:transform" x="678.04" y="448.90" font-family='"Liberation Sans", sans-serif' font-size="12" fill="#262626">0</text>
<path d="M669.00 448.90L669.00 440.46L668.19 440.46C668.07 441.04 667.69 441.46 667.03 441.63L665.90 441.72L665.90 442.54L667.95 442.54L667.95 448.90Z" fill="#262626"/>
<text style="will-change:transform" x="454.70" y="464.40" font-family='"Liberation Sans", sans-serif' font-size="13.6" text-anchor="start" fill="#262626" font-weight="normal" >Enantiomeric excess (%)</text>
<path d="M401.00 415.59 L402.00 415.49 L403.00 415.39 L404.00 415.29 L405.00 415.17 L406.00 415.05 L407.00 414.93 L408.00 414.79 L409.00 414.65 L410.00 414.51 L411.00 414.35 L412.00 414.19 L413.00 414.02 L414.00 413.85 L415.00 413.66 L416.00 413.47 L417.00 413.28 L418.00 413.07 L419.00 412.86 L420.00 412.64 L421.00 412.42 L422.00 412.19 L423.00 411.95 L424.00 411.70 L425.00 411.44 L426.00 411.18 L427.00 410.91 L428.00 410.64 L429.00 410.35 L430.00 410.06 L431.00 409.76 L432.00 409.45 L433.00 409.14 L434.00 408.82 L435.00 408.49 L436.00 408.15 L437.00 407.81 L438.00 407.46 L439.00 407.10 L440.00 406.73 L441.00 406.36 L442.00 405.98 L443.00 405.59 L444.00 405.19 L445.00 404.79 L446.00 404.38 L447.00 403.96 L448.00 403.53 L449.00 403.10 L450.00 402.65 L451.00 402.21 L452.00 401.75 L453.00 401.29 L454.00 400.81 L455.00 400.33 L456.00 399.85 L457.00 399.36 L458.00 398.85 L459.00 398.35 L460.00 397.83 L461.00 397.31 L462.00 396.78 L463.00 396.24 L464.00 395.70 L465.00 395.14 L466.00 394.59 L467.00 394.02 L468.00 393.45 L469.00 392.87 L470.00 392.28 L471.00 391.69 L472.00 391.09 L473.00 390.48 L474.00 389.87 L475.00 389.25 L476.00 388.62 L477.00 387.99 L478.00 387.35 L479.00 386.70 L480.00 386.05 L481.00 385.39 L482.00 384.72 L483.00 384.05 L484.00 383.37 L485.00 382.69 L486.00 382.00 L487.00 381.30 L488.00 380.60 L489.00 379.90 L490.00 379.18 L491.00 378.46 L492.00 377.74 L493.00 377.01 L494.00 376.28 L495.00 375.54 L496.00 374.79 L497.00 374.04 L498.00 373.29 L499.00 372.53 L500.00 371.77 L501.00 371.00 L502.00 370.22 L503.00 369.45 L504.00 368.66 L505.00 367.88 L506.00 367.09 L507.00 366.29 L508.00 365.50 L509.00 364.69 L510.00 363.89 L511.00 363.08 L512.00 362.27 L513.00 361.45 L514.00 360.63 L515.00 359.81 L516.00 358.99 L517.00 358.16 L518.00 357.33 L519.00 356.50 L520.00 355.66 L521.00 354.82 L522.00 353.98 L523.00 353.14 L524.00 352.30 L525.00 351.45 L526.00 350.61 L527.00 349.76 L528.00 348.91 L529.00 348.06 L530.00 347.20 L531.00 346.35 L532.00 345.50 L533.00 344.64 L534.00 343.79 L535.00 342.93 L536.00 342.07 L537.00 341.22 L538.00 340.36 L539.00 339.50 L540.00 338.65 L541.00 337.79 L542.00 336.93 L543.00 336.08 L544.00 335.22 L545.00 334.37 L546.00 333.52 L547.00 332.67 L548.00 331.82 L549.00 330.97 L550.00 330.12 L551.00 329.27 L552.00 328.43 L553.00 327.59 L554.00 326.75 L555.00 325.91 L556.00 325.07 L557.00 324.24 L558.00 323.41 L559.00 322.58 L560.00 321.76 L561.00 320.94 L562.00 320.12 L563.00 319.30 L564.00 318.49 L565.00 317.68 L566.00 316.87 L567.00 316.07 L568.00 315.27 L569.00 314.48 L570.00 313.69 L571.00 312.90 L572.00 312.12 L573.00 311.34 L574.00 310.57 L575.00 309.80 L576.00 309.03 L577.00 308.27 L578.00 307.52 L579.00 306.77 L580.00 306.02 L581.00 305.28 L582.00 304.55 L583.00 303.82 L584.00 303.09 L585.00 302.38 L586.00 301.66 L587.00 300.96 L588.00 300.25 L589.00 299.56 L590.00 298.87 L591.00 298.18 L592.00 297.50 L593.00 296.83 L594.00 296.17 L595.00 295.51 L596.00 294.85 L597.00 294.20 L598.00 293.56 L599.00 292.93 L600.00 292.30 L601.00 291.68 L602.00 291.07 L603.00 290.46 L604.00 289.86 L605.00 289.26 L606.00 288.68 L607.00 288.10 L608.00 287.52 L609.00 286.96 L610.00 286.40 L611.00 285.84 L612.00 285.30 L613.00 284.76 L614.00 284.23 L615.00 283.71 L616.00 283.19 L617.00 282.68 L618.00 282.18 L619.00 281.69 L620.00 281.20 L621.00 280.72 L622.00 280.25 L623.00 279.78 L624.00 279.32 L625.00 278.87 L626.00 278.43 L627.00 278.00 L628.00 277.57 L629.00 277.15 L630.00 276.74 L631.00 276.33 L632.00 275.93 L633.00 275.54 L634.00 275.16 L635.00 274.79 L636.00 274.42 L637.00 274.06 L638.00 273.71 L639.00 273.36 L640.00 273.03 L641.00 272.70 L642.00 272.37 L643.00 272.06 L644.00 271.75 L645.00 271.45 L646.00 271.16 L647.00 270.87 L648.00 270.60 L649.00 270.33 L650.00 270.06 L651.00 269.81 L652.00 269.56 L653.00 269.32 L654.00 269.09 L655.00 268.86 L656.00 268.64 L657.00 268.43 L658.00 268.22 L659.00 268.03 L660.00 267.84 L661.00 267.65 L662.00 267.48 L663.00 267.31 L664.00 267.15 L665.00 266.99 L666.00 266.84 L667.00 266.70 L668.00 266.57 L669.00 266.44 L670.00 266.32 L671.00 266.20 L672.00 266.10 L673.00 266.00 L674.00 265.90 L675.00 265.82 L676.00 265.74 L677.00 265.66" fill="none" stroke="#800000" stroke-width="3.4" stroke-linejoin="round" stroke-linecap="butt"/>
<text style="will-change:transform" x="413.00" y="272.20" font-family='"Liberation Serif", serif' font-size="20.3" text-anchor="start" fill="#000" font-weight="normal" >H12</text>
<text style="will-change:transform" x="351.00" y="254.00" font-family='"Liberation Serif", serif' font-size="27" text-anchor="start" fill="#000" font-weight="bold" >d</text>
<text style="will-change:transform" transform="translate(360.5,384.9) rotate(-90)" font-family='"Liberation Sans", sans-serif' font-size="13.6" fill="#262626"><tspan font-family='"Liberation Serif", serif' font-style="italic" font-size="14" fill="#555">&#946;</tspan><tspan font-size="11.2" dy="7.2">av</tspan><tspan dy="-7.2" dx="4.6">(degrees)</tspan></text>
</svg></body></html>
